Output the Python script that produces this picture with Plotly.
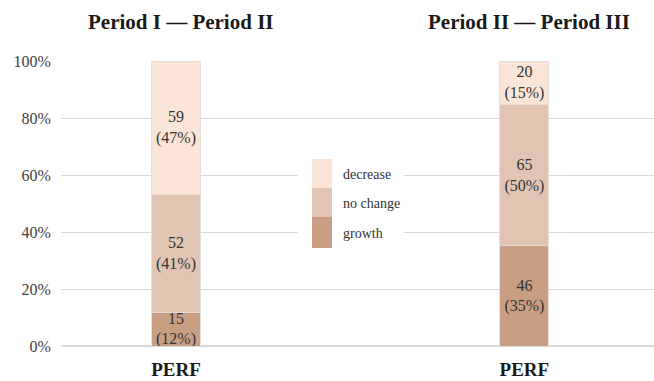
import plotly.graph_objects as go

# Transition counts for the PERF indicator in each period pair
periods = ["Period I — Period II", "Period II — Period III"]
categories = ["growth", "no change", "decrease"]
growth = [15, 46]
no_change = [52, 65]
decrease = [59, 20]
x_labels = ["PERF", "PERF"]
y_ticks = [0, 20, 40, 60, 80, 100]

colors = {"growth": "#c99f83", "no change": "#e1c5b3", "decrease": "#fbe5d6"}
serif = "Liberation Serif"

series = {"growth": growth, "no change": no_change, "decrease": decrease}
totals = [sum(v) for v in zip(growth, no_change, decrease)]
xpos = list(range(len(periods)))

fig = go.Figure()
for cat in categories:
    vals = series[cat]
    pct = [v / t * 100 for v, t in zip(vals, totals)]
    fig.add_trace(go.Bar(
        x=xpos,
        y=pct,
        name=cat,
        width=0.141,
        marker=dict(color=colors[cat], line=dict(color="#e6ddd6", width=1)),
        text=[f"{v}<br>({p:.0f}%)" for v, p in zip(vals, pct)],
        textposition="inside",
        insidetextanchor="middle",
        textangle=0,
        textfont=dict(family=serif, size=16, color="#333333"),
        showlegend=False,
    ))

# Panel titles above each bar
for xi, title in zip(xpos, periods):
    fig.add_annotation(
        x=xi, y=1.137, xref="x", yref="paper", text=f"<b>{title}</b>",
        showarrow=False, font=dict(family=serif, size=21, color="#1a1a1a"),
        xanchor="center", yanchor="middle", xshift=5,
    )

# Legend drawn as stacked swatches on a white panel
W, H, L, T, B = 654, 381, 61, 61, 35
pw, ph = W - L, H - T - B


def px_x(p):
    return (p - L) / pw


def px_y(p):
    return (H - B - p) / ph


shapes = [dict(type="rect", xref="paper", yref="paper",
               x0=px_x(298), x1=px_x(404), y0=px_y(252), y1=px_y(150),
               fillcolor="white", line=dict(width=0), layer="above")]
sw_edges = [159, 188, 217, 248]
for i, cat in enumerate(reversed(categories)):
    shapes.append(dict(type="rect", xref="paper", yref="paper",
                       x0=px_x(312), x1=px_x(332),
                       y0=px_y(sw_edges[i + 1]), y1=px_y(sw_edges[i]),
                       fillcolor=colors[cat], line=dict(width=0), layer="above"))
    fig.add_annotation(
        x=px_x(341), y=px_y((sw_edges[i] + sw_edges[i + 1]) / 2 + 1),
        xref="paper", yref="paper", text=cat, showarrow=False,
        xanchor="left", yanchor="middle",
        font=dict(family=serif, size=14, color="#333333"),
    )

fig.update_layout(
    barmode="stack",
    width=W, height=H,
    margin=dict(l=L, r=0, t=T, b=B),
    paper_bgcolor="white", plot_bgcolor="white",
    shapes=shapes,
    uniformtext=dict(minsize=16, mode="show"),
    showlegend=False,
)
fig.update_xaxes(
    range=[-0.330, 1.372], tickvals=xpos,
    ticktext=[f"<b>{t}</b>" for t in x_labels],
    tickfont=dict(family=serif, size=19, color="#1a1a1a"),
    showgrid=False, zeroline=False, showline=False,
    ticks="outside", ticklen=6, tickcolor="rgba(0,0,0,0)",
)
fig.update_yaxes(
    range=[0, 100], tickvals=y_ticks, ticktext=[f"{t}%" for t in y_ticks],
    tickfont=dict(family=serif, size=16, color="#404040"),
    gridcolor="#d9d9d9", gridwidth=1, zeroline=True, zerolinecolor="#d9d9d9",
    showline=False, ticks="outside", ticklen=6, tickcolor="rgba(0,0,0,0)",
)

fig.write_html("out.html")
